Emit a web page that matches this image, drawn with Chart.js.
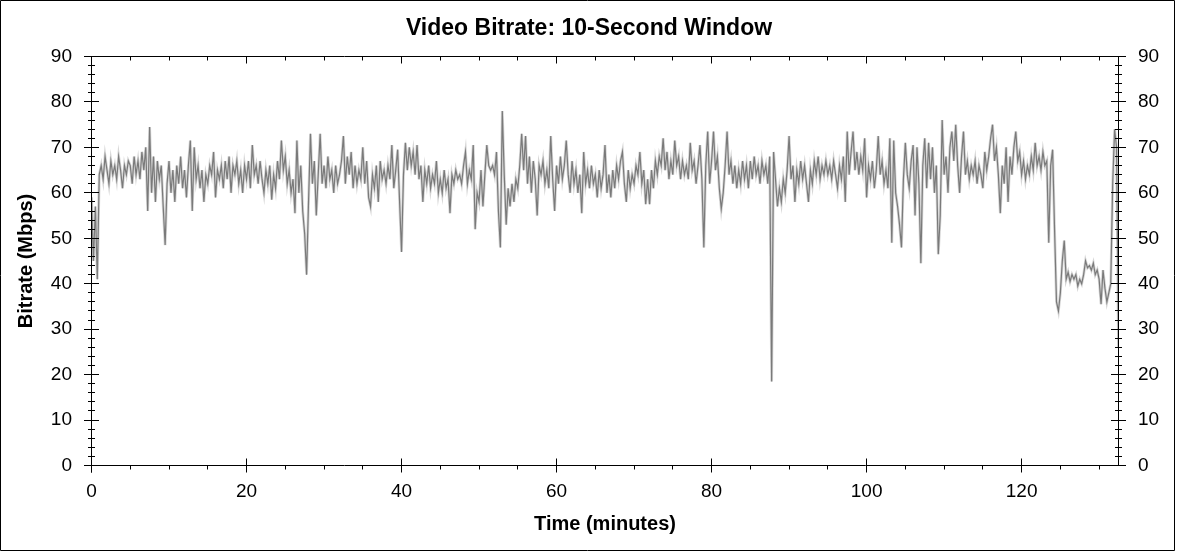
<!DOCTYPE html>
<html>
<head>
<meta charset="utf-8">
<title>Video Bitrate: 10-Second Window</title>
<script src="https://cdn.jsdelivr.net/npm/chart.js@4/dist/chart.umd.min.js"></script>
<style>
  html, body { margin: 0; padding: 0; background: #fff; }
  canvas { display: block; }
</style>
</head>
<body>
<canvas id="myChart" width="1178" height="552"></canvas>
<script>
// sample spacing of the bitrate series, minutes
const stepMinutes = 0.25;
const xTicks = [0, 20, 40, 60, 80, 100, 120];
const yTicks = [0, 10, 20, 30, 40, 50, 60, 70, 80, 90];

// bitrate (Mbps), one value every 15 seconds
const bitrate = [
  59, 45, 57, 41, 64, 66, 63, 68, 65, 62, 67, 64, 66, 63, 68, 65, 61, 66, 64, 67,
  66, 62, 68, 64, 67, 63, 69, 65, 70, 56, 74.5, 60, 68, 58, 67, 63, 66, 57, 48.5, 62,
  67, 60, 65, 58, 66, 62, 68, 61, 65, 59, 66, 71.5, 56, 70, 63, 66, 61, 65, 58, 64,
  62, 66, 64, 69, 59, 65, 63, 66, 61, 67, 63, 68, 60, 66, 64, 67, 62, 65, 60, 66,
  63, 67, 61, 70.5, 64, 66, 62, 67, 63, 60, 65, 62, 66, 58.5, 64, 61, 67, 63, 71.5, 65,
  68, 62, 65, 60, 63, 55.5, 71.5, 60, 66, 56, 51, 42, 58, 73, 62, 67, 55, 64, 73, 62,
  66, 61, 68, 63, 65, 60, 66, 62, 64, 67, 72.5, 62, 68, 64, 69, 61, 66, 62, 65, 63,
  70, 62, 67, 59, 57, 64, 61, 66, 58, 67, 63, 65, 62, 66, 63, 70.5, 61, 65, 69.5, 58,
  47, 64, 71, 65, 70, 66, 69, 64, 70.5, 63, 66, 58, 65, 62, 66, 61, 64, 62, 67, 60,
  63, 60, 65, 61, 63, 55.5, 64, 62, 65, 63, 64, 62, 66, 69, 62, 65, 63, 70.5, 52, 60,
  58, 65, 57, 64, 70.5, 66, 65, 66, 64, 69, 56, 48, 78, 64, 53, 61, 57, 62, 58, 63,
  61, 66, 73, 65, 72.5, 62, 68, 60, 67, 63, 55, 66, 64, 67, 62, 65, 61, 72.5, 63, 56,
  66, 62, 68, 63, 66, 71.5, 64, 60, 67, 62, 65, 60, 64, 55.5, 69, 62, 65, 61, 66, 62,
  64, 59, 65, 61, 64, 70.5, 60, 64, 59, 65, 61, 66, 63, 67, 69, 62, 58, 65, 61, 64,
  62, 66, 64, 69, 62, 65, 57.5, 63, 57.5, 65, 61, 67, 64, 68, 66, 72, 65, 69, 63, 67,
  64, 71.5, 66, 68, 63, 67, 64, 66, 63, 71, 65, 67, 62, 66, 70.5, 63, 48, 66, 73.5, 62,
  67, 73.5, 65, 68, 61, 56.5, 60, 66, 73.5, 64, 67, 62, 66, 61, 65, 62, 67, 63, 66, 61,
  67, 63, 68, 64, 66, 62, 67, 64, 66, 62, 68, 18.5, 69, 63, 57, 61, 58, 63, 60, 65,
  72.5, 63, 66, 58, 65, 62, 67, 63, 66, 62, 58, 65, 62, 67, 64, 68, 63, 66, 64, 67,
  64, 66, 63, 67, 64, 61, 66, 63, 68, 58, 73.5, 64, 69, 73.5, 65, 69, 64, 68, 65, 72,
  59, 66, 63, 67, 61, 65, 72.5, 64, 67, 62, 65, 61, 72, 49, 71.5, 60, 57, 53, 48, 63,
  71, 64, 61, 67, 70.5, 55, 70, 62, 44.5, 66, 72, 61, 71, 63, 70, 60, 66, 46.5, 55, 76,
  64, 68, 60, 70, 73.5, 67, 75, 66, 60, 68, 73.5, 64, 67, 63, 66, 64, 67, 62, 66, 64,
  61, 69, 65, 68, 72, 75, 67, 70, 64, 55.5, 66, 62, 70, 58, 68, 64, 70, 73.5, 67, 69,
  64, 67, 63, 66, 64, 68, 65, 71, 66, 68, 65, 69, 66, 67, 49, 66, 69.5, 52, 36, 34,
  38, 45, 49.5, 41, 42.5, 40.5, 42, 41, 42, 39.5, 41, 40, 42, 45, 43.5, 44, 43, 44.5, 42, 43,
  41, 35.5, 43, 39, 36, 38, 40, 62, 74, 70, 26
];

const points = bitrate.map((v, i) => ({ x: i * stepMinutes, y: v }));

const fontFamily = '"Liberation Sans", Arial, sans-serif';

// tick marks and frame drawn in the style of the original plot
const axisDecor = {
  id: 'axisDecor',
  afterDraw(chart) {
    const { ctx, chartArea: a } = chart;
    const x = chart.scales.x;
    const y = chart.scales.y;
    const crisp = (p) => Math.round(p - 0.5) + 0.5;
    const L = crisp(a.left), R = crisp(a.right), T = crisp(a.top), B = crisp(a.bottom);
    ctx.save();
    ctx.strokeStyle = '#000';
    ctx.lineWidth = 1;
    ctx.beginPath();
    // outer border
    ctx.rect(0.5, 0.5, 1174, 550);
    // axis box
    ctx.moveTo(L - 7.5, T); ctx.lineTo(R + 7.5, T);
    ctx.moveTo(L - 7.5, B); ctx.lineTo(R + 7.5, B);
    ctx.moveTo(L, T); ctx.lineTo(L, B + 7);
    ctx.moveTo(R, T); ctx.lineTo(R, B);
    // y ticks, both sides
    for (let v = 0; v <= 90; v += 2) {
      const py = crisp(y.getPixelForValue(v));
      const len = v % 10 === 0 ? 7.5 : 3.5;
      ctx.moveTo(L - len, py); ctx.lineTo(L + len, py);
      ctx.moveTo(R - len, py); ctx.lineTo(R + len, py);
    }
    // x ticks
    for (let v = 0; v <= x.max; v += 5) {
      const px = crisp(x.getPixelForValue(v));
      const major = v % 20 === 0;
      ctx.moveTo(px, B - (major ? 7 : 0)); ctx.lineTo(px, B + (major ? 7 : 4));
      ctx.moveTo(px, T); ctx.lineTo(px, T + (major ? 7 : 4));
    }
    ctx.stroke();
    ctx.restore();
  }
};

const ctx = document.getElementById('myChart').getContext('2d');
const myChart = new Chart(ctx, {
  type: 'line',
  data: {
    datasets: [
      {
        label: 'Bitrate',
        data: points,
        borderColor: '#7a7a7a',
        borderWidth: 1.2,
        pointRadius: 0,
        tension: 0,
        order: 1
      },
      {
        label: 'Envelope',
        data: points,
        borderColor: '#d6d6d6',
        borderWidth: 2.8,
        pointRadius: 0,
        tension: 0,
        order: 2
      }
    ]
  },
  options: {
    responsive: false,
    animation: false,
    devicePixelRatio: 1,
    layout: { padding: 0 },
    plugins: {
      legend: { display: false },
      tooltip: { enabled: false },
      title: {
        display: true,
        text: 'Video Bitrate: 10-Second Window',
        color: '#000',
        font: { family: fontFamily, size: 23, weight: 'bold', lineHeight: 1.2 },
        padding: { top: 14.5, bottom: 14.4 }
      }
    },
    scales: {
      x: {
        type: 'linear',
        position: 'bottom',
        min: 0,
        max: 132.5,
        grid: { display: false, drawTicks: false },
        border: { display: false },
        afterFit: (s) => { s.height = 86.5; },
        afterBuildTicks: (s) => { s.ticks = xTicks.map(v => ({ value: v })); },
        ticks: {
          includeBounds: false,
          color: '#000',
          padding: 15,
          maxRotation: 0,
          font: { family: fontFamily, size: 19 }
        },
        title: {
          display: true,
          text: 'Time (minutes)',
          color: '#000',
          font: { family: fontFamily, size: 20, weight: 'bold', lineHeight: 1.2 },
          padding: { top: 0, bottom: 16 }
        }
      },
      y: {
        position: 'left',
        min: 0,
        max: 90,
        grid: { display: false, drawTicks: false },
        border: { display: false },
        afterFit: (s) => { s.width = 91.5; },
        afterBuildTicks: (s) => { s.ticks = yTicks.map(v => ({ value: v })); },
        ticks: {
          color: '#000',
          padding: 19.5,
          font: { family: fontFamily, size: 19 }
        },
        title: {
          display: true,
          text: 'Bitrate (Mbps)',
          color: '#000',
          font: { family: fontFamily, size: 20, weight: 'bold', lineHeight: 1.2 },
          padding: { top: 14, bottom: 0 }
        }
      },
      y2: {
        position: 'right',
        min: 0,
        max: 90,
        grid: { display: false, drawTicks: false },
        border: { display: false },
        afterFit: (s) => { s.width = 59.5; },
        afterBuildTicks: (s) => { s.ticks = yTicks.map(v => ({ value: v })); },
        ticks: {
          color: '#000',
          padding: 19.5,
          font: { family: fontFamily, size: 19 }
        }
      }
    }
  },
  plugins: [axisDecor]
});
</script>
</body>
</html>
